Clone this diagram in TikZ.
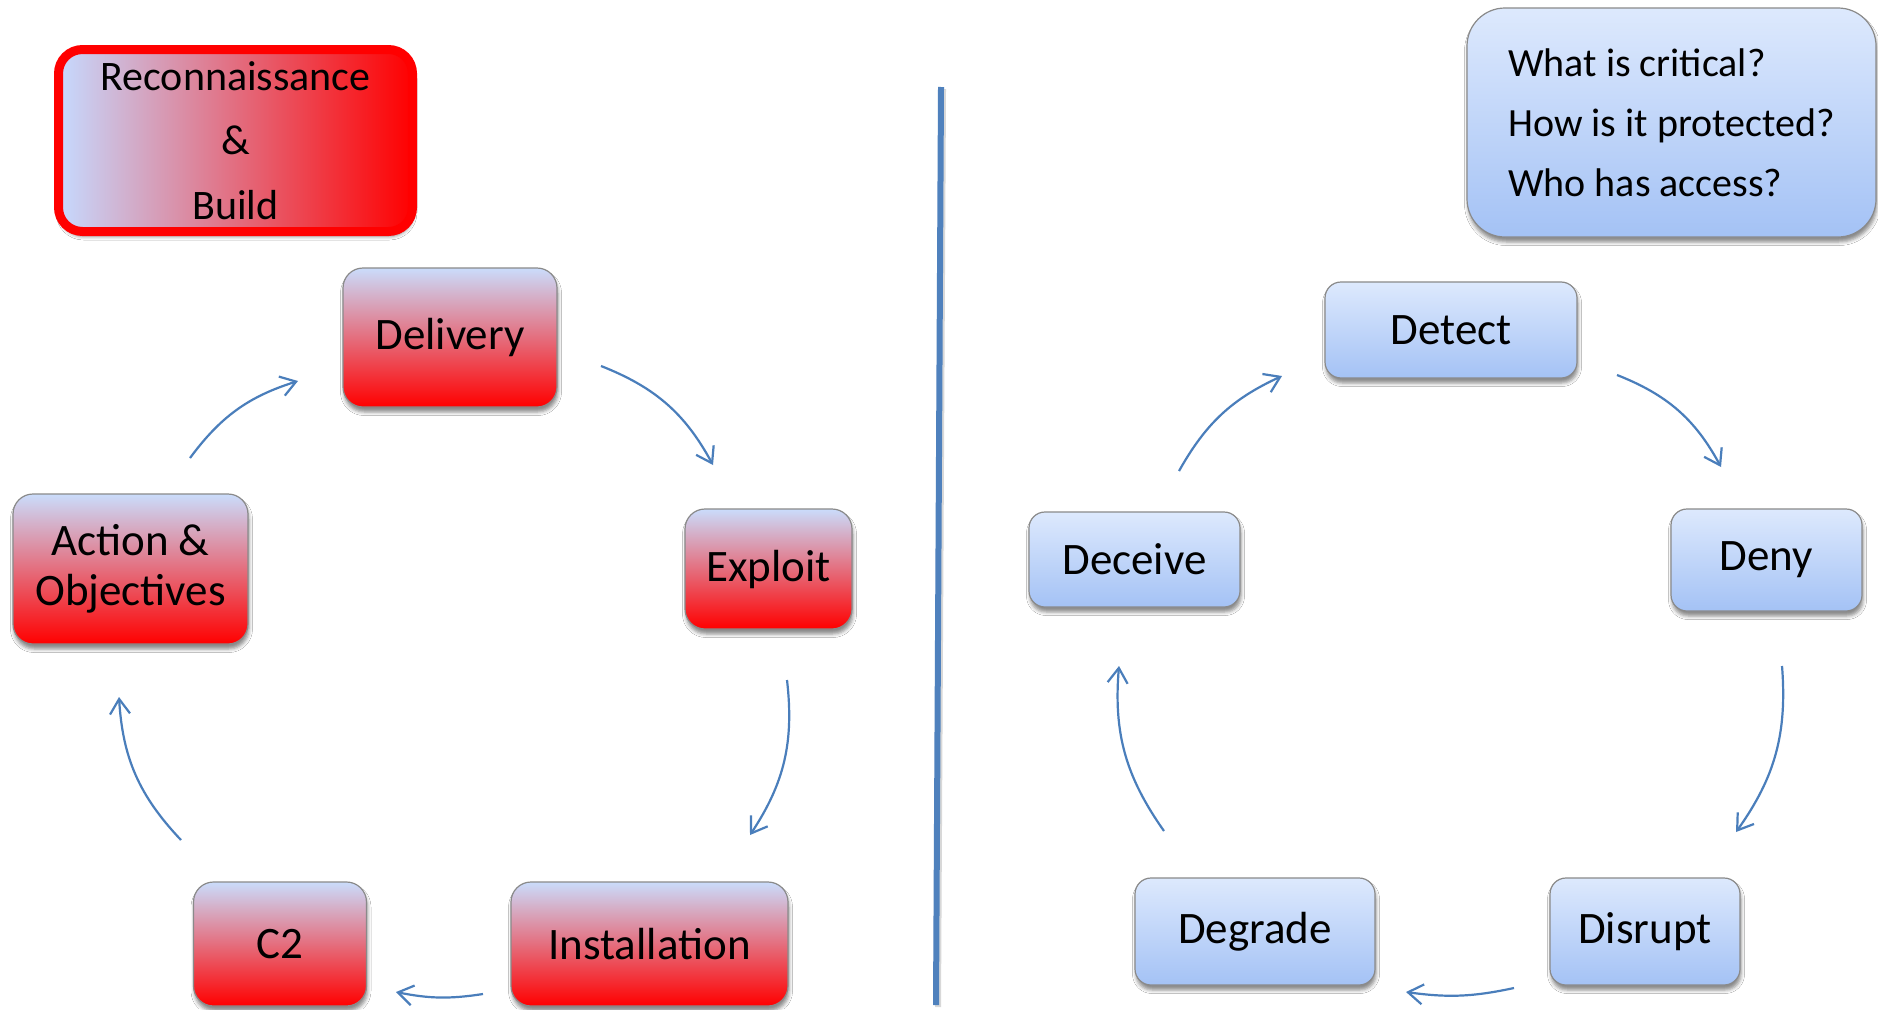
\documentclass[tikz,border=0pt]{standalone}
\usepackage{fontspec}
\setmainfont{Carlito}
\usetikzlibrary{arrows.meta,shadows.blur}

\definecolor{linkblue}{HTML}{4A7EBB}
\definecolor{rulerblue}{HTML}{4F81BD}
\definecolor{paleblue}{HTML}{DDE9FD}
\definecolor{midblue}{HTML}{A4C2F5}
\definecolor{redtop}{HTML}{CADCFB}
\definecolor{reconblue}{HTML}{C6DAFF}
\definecolor{edgegrey}{HTML}{8A8A8A}

\begin{document}
\begin{tikzpicture}[x=1pt,y=1pt,
  card/.style={rectangle, draw=edgegrey, line width=1.2pt, inner sep=0pt, text=black,
    blur shadow={shadow xshift=1pt, shadow yshift=-5pt, shadow blur radius=3.5pt, shadow opacity=45}},
  attack/.style={card, rounded corners=20pt, top color=redtop, bottom color=red,
    font=\fontsize{45}{50}\selectfont, align=center},
  defend/.style={card, rounded corners=16pt, top color=paleblue, bottom color=midblue,
    font=\fontsize{45}{50}\selectfont},
  cyclearrow/.style={draw=linkblue, line width=2.2pt, -{Straight Barb[length=15pt,width=20pt]}},
]
\useasboundingbox[fill=white] (0,0) rectangle (1878,-1009);

% divider between the two cycles
\coordinate (ruletop) at (941,-87);
\coordinate (rulebot) at (936,-1005);
\draw[line width=6pt, black!30, opacity=0.5] ([shift={(2,-2)}]ruletop) -- ([shift={(2,-2)}]rulebot);
\draw[line width=6pt, rulerblue] (ruletop) -- (rulebot);

% attacker side
\node[card, draw=red, line width=9pt, rounded corners=24pt, left color=reconblue, right color=red,
  minimum width=354pt, minimum height=182pt, align=center, font=\fontsize{42}{64.5}\selectfont]
  (recon) at (235.5,-140.5) {Reconnaissance\\\&\\Build};
\node[attack, minimum width=214pt, minimum height=139pt] (delivery) at (450,-337.5) {Delivery};
\node[attack, minimum width=167pt, minimum height=120pt] (exploit) at (768.5,-569) {Exploit};
\node[attack, minimum width=277pt, minimum height=124pt] (install) at (649.5,-944) {Installation};
\node[attack, minimum width=173pt, minimum height=124pt] (ctwo) at (280,-944) {C2};
\node[attack, minimum width=235pt, minimum height=150pt] (action) at (130.5,-569) {Action \&\\Objectives};

% defender side
\node[card, rounded corners=38pt, top color=paleblue, bottom color=midblue,
  minimum width=409pt, minimum height=229pt, align=left, font=\fontsize{40}{60}\selectfont]
  (ask) at (1671.5,-122.5) {What is critical?\\How is it protected?\\Who has access?};
\node[defend, minimum width=252pt, minimum height=96pt] (detect) at (1451,-330) {Detect};
\node[defend, minimum width=191pt, minimum height=102pt] (deny) at (1766.5,-560) {Deny};
\node[defend, minimum width=190pt, minimum height=107pt] (disrupt) at (1645,-931.5) {Disrupt};
\node[defend, minimum width=240pt, minimum height=107pt] (degrade) at (1255,-931.5) {Degrade};
\node[defend, minimum width=211pt, minimum height=95pt] (deceive) at (1134.5,-559.5) {Deceive};

% arrow end points of the attack cycle
\coordinate (a1s) at (190,-458);   \coordinate (a1e) at (298,-381);
\coordinate (a2s) at (601,-366);   \coordinate (a2e) at (713,-465);
\coordinate (a3s) at (787,-680);   \coordinate (a3e) at (750,-835);
\coordinate (a4s) at (483,-994);   \coordinate (a4e) at (396,-992);
\coordinate (a5s) at (181,-840);   \coordinate (a5e) at (119,-697);
% arrow end points of the defence cycle
\coordinate (d1s) at (1179,-471);  \coordinate (d1e) at (1282,-376);
\coordinate (d2s) at (1617,-375);  \coordinate (d2e) at (1721,-467);
\coordinate (d3s) at (1782,-666);  \coordinate (d3e) at (1736,-832);
\coordinate (d4s) at (1514,-988);  \coordinate (d4e) at (1406,-992);
\coordinate (d5s) at (1164,-831);  \coordinate (d5e) at (1119,-666);

\draw[cyclearrow] (a1s) to[bend left=18] (a1e);
\draw[cyclearrow] (a2s) to[bend left=20] (a2e);
\draw[cyclearrow] (a3s) to[bend left=20] (a3e);
\draw[cyclearrow] (a4s) to[bend left=10] (a4e);
\draw[cyclearrow] (a5s) to[bend left=20] (a5e);

\draw[cyclearrow] (d1s) to[bend left=18] (d1e);
\draw[cyclearrow] (d2s) to[bend left=20] (d2e);
\draw[cyclearrow] (d3s) to[bend left=20] (d3e);
\draw[cyclearrow] (d4s) to[bend left=10] (d4e);
\draw[cyclearrow] (d5s) to[bend left=20] (d5e);
\end{tikzpicture}
\end{document}
